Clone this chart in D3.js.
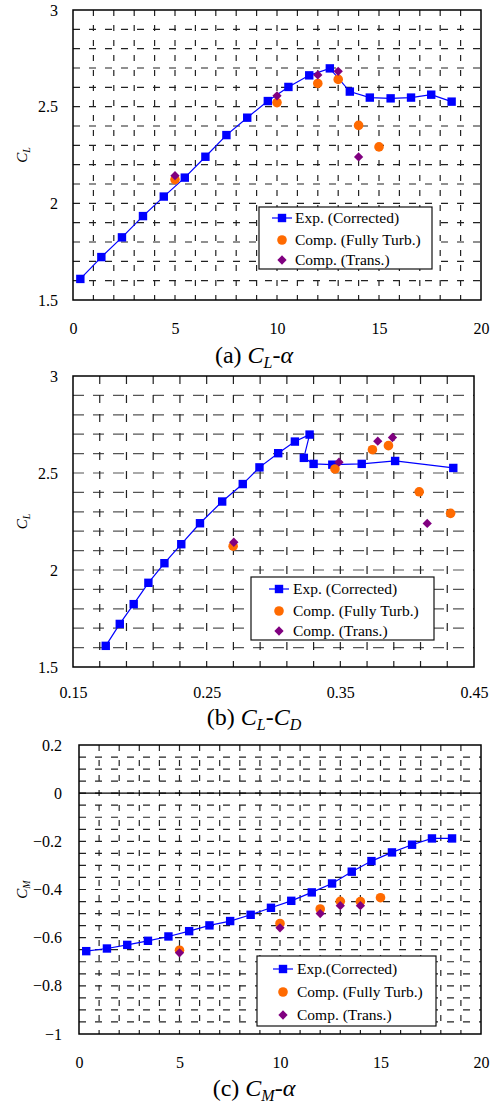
<!DOCTYPE html>
<html>
<head>
<meta charset="utf-8">
<script src="https://cdn.jsdelivr.net/npm/d3@7"></script>
<style>
    body { margin: 0; background: #fff; }
    svg text { font-family: 'Liberation Serif', 'Times New Roman', Times, 'DejaVu Serif', serif; }
</style>
</head>
<body>
<div id="chart"></div>
<script>
// experiment (corrected), one point per angle of attack
var alphaExp = [0.36, 1.39, 2.40, 3.43, 4.45, 5.48, 6.49, 7.52, 8.54, 9.55, 10.56, 11.58, 12.59, 13.57, 14.55, 15.57, 16.57, 17.56, 18.56];
var clExp = [1.609, 1.722, 1.824, 1.934, 2.035, 2.133, 2.241, 2.353, 2.443, 2.529, 2.602, 2.662, 2.698, 2.578, 2.547, 2.543, 2.547, 2.562, 2.526];
var cdExp = [0.1745, 0.185, 0.1954, 0.2064, 0.2184, 0.231, 0.245, 0.2616, 0.277, 0.2895, 0.3035, 0.316, 0.327, 0.3227, 0.330, 0.344, 0.366, 0.391, 0.4345];
var cmExp = [-0.656, -0.645, -0.630, -0.613, -0.595, -0.573, -0.549, -0.531, -0.505, -0.476, -0.447, -0.412, -0.375, -0.326, -0.282, -0.246, -0.214, -0.188, -0.188];

// computation, fully turbulent
var alphaTurb = [5, 10, 12, 13, 14, 15];
var clTurb = [2.123, 2.521, 2.620, 2.641, 2.403, 2.292];
var cdTurb = [0.2698, 0.346, 0.374, 0.386, 0.409, 0.4325];
var cmTurb = [-0.652, -0.541, -0.481, -0.449, -0.450, -0.434];

// computation, transition
var alphaTrans = [5, 10, 12, 13, 14];
var clTrans = [2.143, 2.556, 2.664, 2.683, 2.240];
var cdTrans = [0.2703, 0.349, 0.378, 0.389, 0.415];
var cmTrans = [-0.663, -0.559, -0.500, -0.467, -0.467];

// tick labels
var alphaTicks = [0, 5, 10, 15, 20];
var cdTicks = [0.15, 0.25, 0.35, 0.45];
var clTicks = [1.5, 2, 2.5, 3];
var cmTicks = [-1, -0.8, -0.6, -0.4, -0.2, 0, 0.2];

var legendNames = ["Exp. (Corrected)", "Comp. (Fully Turb.)", "Comp. (Trans.)"];
var legendNamesC = ["Exp.(Corrected)", "Comp. (Fully Turb.)", "Comp. (Trans.)"];

var blue = "#0000ff", orange = "#ff6a00", purple = "#800080";
var serif = "'Liberation Serif', 'Times New Roman', Times, serif";

var svg = d3.select("#chart")
    .append("svg")
    .attr("width", 497)
    .attr("height", 1106);

function zip(xs, ys) {
    return xs.map((x, i) => ({ x: x, y: ys[i] }));
}

function drawPanel(p) {
    var x = d3.scaleLinear().domain(p.xDomain).range([p.left, p.right]);
    var y = d3.scaleLinear().domain(p.yDomain).range([p.bottom, p.top]);
    var g = svg.append("g");

    // dashed grid
    var xGrid = d3.range(p.xDomain[0] + p.xStep, p.xDomain[1] - p.xStep / 2, p.xStep);
    var yGrid = d3.range(p.yDomain[0] + p.yStep, p.yDomain[1] - p.yStep / 2, p.yStep);

    g.selectAll(".hgrid")
        .data(yGrid)
        .enter()
        .append("line")
        .attr("x1", p.left)
        .attr("x2", p.right)
        .attr("y1", (d) => y(d))
        .attr("y2", (d) => y(d))
        .style("stroke", p.hColor)
        .style("stroke-width", 1.2)
        .style("stroke-dasharray", p.hDash);

    g.selectAll(".vgrid")
        .data(xGrid)
        .enter()
        .append("line")
        .attr("x1", (d) => x(d))
        .attr("x2", (d) => x(d))
        .attr("y1", p.top)
        .attr("y2", p.bottom)
        .style("stroke", "#222")
        .style("stroke-width", 1.2)
        .style("stroke-dasharray", p.vDash);

    if (p.zeroLine) {
        g.append("line")
            .attr("x1", p.left).attr("x2", p.right)
            .attr("y1", y(0)).attr("y2", y(0))
            .style("stroke", "black")
            .style("stroke-width", 1.3);
    }

    // frame
    g.append("rect")
        .attr("x", p.left)
        .attr("y", p.top)
        .attr("width", p.right - p.left)
        .attr("height", p.bottom - p.top)
        .style("fill", "none")
        .style("stroke", "black")
        .style("stroke-width", 1.5);

    // axes labels only, no tick marks
    var xAxis = d3.axisBottom(x).tickValues(p.xTicks).tickSize(0).tickFormat(p.xFormat || d3.format(""));
    var gx = g.append("g")
        .attr("transform", `translate(0, ${p.bottom + p.xGap})`)
        .call(xAxis)
        .attr("font-family", null);
    gx.select(".domain").remove();
    gx.selectAll("text").style("font-size", "16px").style("font-family", serif).attr("fill", "black");

    var yAxis = d3.axisLeft(y).tickValues(p.yTicks).tickSize(0).tickFormat(d3.format(""));
    var gy = g.append("g")
        .attr("transform", `translate(${p.left - p.yGap}, 0)`)
        .call(yAxis)
        .attr("font-family", null);
    gy.select(".domain").remove();
    gy.selectAll("text").style("font-size", "16px").style("font-family", serif).attr("fill", "black");

    // y title
    var yt = g.append("text")
        .attr("transform", `translate(27, ${(p.top + p.bottom) / 2}) rotate(-90)`)
        .attr("text-anchor", "middle")
        .style("font-family", serif)
        .style("font-size", "15px")
        .style("font-style", "italic");
    yt.append("tspan").text("C");
    yt.append("tspan").style("font-size", "10px").attr("dy", 3).text(p.ySub);

    // experiment line + squares
    var exp = zip(p.expX, p.expY);
    g.append("path")
        .datum(exp)
        .attr("d", d3.line().x((d) => x(d.x)).y((d) => y(d.y)))
        .style("fill", "none")
        .style("stroke", blue)
        .style("stroke-width", 1.2);

    g.selectAll(".sq")
        .data(exp)
        .enter()
        .append("rect")
        .attr("x", (d) => x(d.x) - 4.2)
        .attr("y", (d) => y(d.y) - 4.2)
        .attr("width", 8.4)
        .attr("height", 8.4)
        .style("fill", blue);

    g.selectAll(".circ")
        .data(zip(p.turbX, p.turbY))
        .enter()
        .append("circle")
        .attr("cx", (d) => x(d.x))
        .attr("cy", (d) => y(d.y))
        .attr("r", 4.8)
        .style("fill", orange);

    g.selectAll(".dia")
        .data(zip(p.transX, p.transY))
        .enter()
        .append("path")
        .attr("d", d3.symbol().type(d3.symbolDiamond2).size(55))
        .attr("transform", (d) => `translate(${x(d.x)}, ${y(d.y)})`)
        .style("fill", purple);

    drawLegend(g, p.legend, p.legendNames);

    // caption
    var cap = g.append("text")
        .attr("x", 254)
        .attr("y", p.capY)
        .attr("text-anchor", "middle")
        .style("font-family", serif)
        .style("font-size", "24px");
    cap.append("tspan").text(p.capLabel + " ");
    cap.append("tspan").style("font-style", "italic").text("C");
    cap.append("tspan").style("font-style", "italic").style("font-size", "16px").attr("dy", 5).text(p.capSub1);
    cap.append("tspan").attr("dy", -5).text("-");
    if (p.capSub2) {
        cap.append("tspan").style("font-style", "italic").text("C");
        cap.append("tspan").style("font-style", "italic").style("font-size", "16px").attr("dy", 5).text(p.capSub2);
    } else {
        cap.append("tspan").style("font-style", "italic").text("α");
    }
}

function drawLegend(g, L, names) {
    var lg = g.append("g");
    lg.append("rect")
        .attr("x", L.x0)
        .attr("y", L.y0)
        .attr("width", L.x1 - L.x0)
        .attr("height", L.y1 - L.y0)
        .style("fill", "white")
        .style("stroke", "#111")
        .style("stroke-width", 1.2);

    lg.append("line")
        .attr("x1", L.mx - 10).attr("x2", L.mx + 10)
        .attr("y1", L.rows[0]).attr("y2", L.rows[0])
        .style("stroke", blue).style("stroke-width", 1.2);
    lg.append("rect")
        .attr("x", L.mx - 4.2).attr("y", L.rows[0] - 4.2)
        .attr("width", 8.4).attr("height", 8.4)
        .style("fill", blue);
    lg.append("circle")
        .attr("cx", L.mx).attr("cy", L.rows[1]).attr("r", 4.8)
        .style("fill", orange);
    lg.append("path")
        .attr("d", d3.symbol().type(d3.symbolDiamond2).size(55))
        .attr("transform", `translate(${L.mx}, ${L.rows[2]})`)
        .style("fill", purple);

    lg.selectAll(".lt")
        .data(names)
        .enter()
        .append("text")
        .attr("x", L.tx)
        .attr("y", (d, i) => L.rows[i] + 5)
        .style("font-family", serif)
        .style("font-size", "15.5px")
        .text((d) => d);
}

drawPanel({
    left: 73, right: 481, top: 10, bottom: 300, yGap: 12, xGap: 20,
    xDomain: [0, 20], yDomain: [1.5, 3], xStep: 1, yStep: 0.1,
    xTicks: alphaTicks, yTicks: clTicks,
    hDash: "7,9", vDash: "6,9", hColor: "#222",
    ySub: "L",
    expX: alphaExp, expY: clExp,
    turbX: alphaTurb, turbY: clTurb,
    transX: alphaTrans, transY: clTrans,
    legend: { x0: 259, x1: 432, y0: 207, y1: 269, mx: 282, tx: 295, rows: [218, 240, 260] },
    legendNames: legendNames,
    capY: 363, capLabel: "(a)", capSub1: "L"
});

drawPanel({
    left: 73, right: 474, top: 376, bottom: 667, yGap: 12, xGap: 17,
    xDomain: [0.15, 0.45], yDomain: [1.5, 3], xStep: 0.02, yStep: 0.1,
    xTicks: cdTicks, yTicks: clTicks, xFormat: d3.format(".2f"),
    hDash: "11,9", vDash: "8,11", hColor: "#555",
    ySub: "L",
    expX: cdExp, expY: clExp,
    turbX: cdTurb, turbY: clTurb,
    transX: cdTrans, transY: clTrans,
    legend: { x0: 251, x1: 434, y0: 577, y1: 640, mx: 279, tx: 293, rows: [589, 611, 631] },
    legendNames: legendNames,
    capY: 725, capLabel: "(b)", capSub1: "L", capSub2: "D"
});

drawPanel({
    left: 79, right: 481, top: 745, bottom: 1034, yGap: 14, xGap: 20,
    xDomain: [0, 20], yDomain: [-1, 0.2], xStep: 1, yStep: 0.05,
    xTicks: alphaTicks, yTicks: cmTicks,
    hDash: "7,9", vDash: "6,9", hColor: "#222",
    zeroLine: true,
    ySub: "M",
    expX: alphaExp, expY: cmExp,
    turbX: alphaTurb, turbY: cmTurb,
    transX: alphaTrans, transY: cmTrans,
    legend: { x0: 257, x1: 436, y0: 956, y1: 1026, mx: 283, tx: 297, rows: [969, 992, 1015] },
    legendNames: legendNamesC,
    capY: 1096, capLabel: "(c)", capSub1: "M"
});
</script>
</body>
</html>
